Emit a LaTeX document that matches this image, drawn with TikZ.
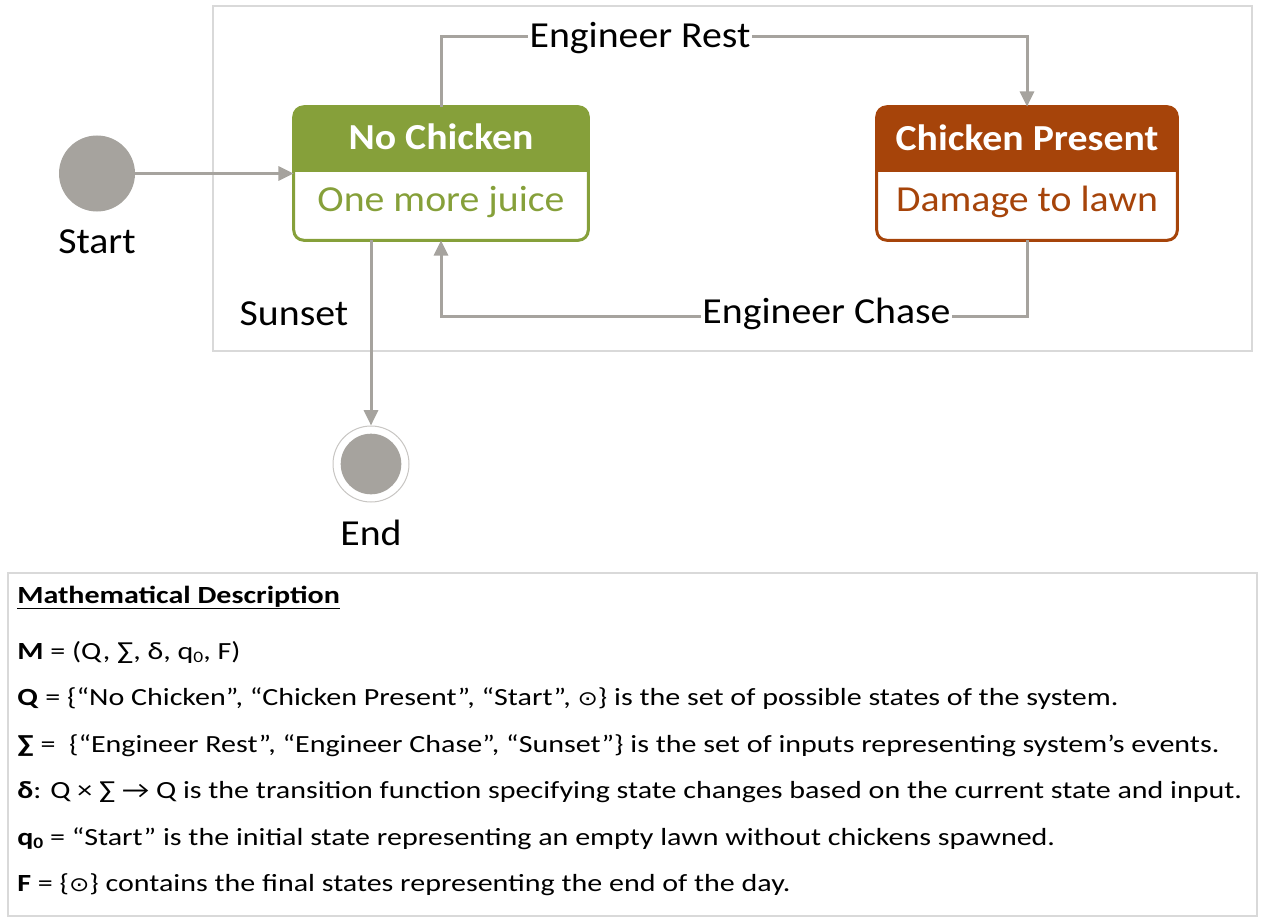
\documentclass[tikz,border=0pt]{standalone}
\usepackage{graphicx}
\usepackage{fontspec}
\setmainfont{Carlito}
\newfontfamily\symfont{DejaVu Sans}
\usetikzlibrary{arrows.meta}
\definecolor{lgray}{RGB}{166,163,158}
\definecolor{frameg}{RGB}{217,217,217}
\definecolor{ringg}{RGB}{200,198,195}
\definecolor{ncgreen}{RGB}{134,160,58}
\definecolor{cporange}{RGB}{166,68,10}
\newcommand\zsub[1]{\raisebox{-0.3ex}{\fontsize{12pt}{12pt}\selectfont #1}}
\newcommand\descfont{\fontsize{18.5pt}{22pt}\selectfont}
\newcommand\sxd[1]{\scalebox{1.085}[1]{#1}}
\newcommand\sxb[1]{\scalebox{1.217}[1]{#1}}
\newcommand\myodot{{\symfont\fontsize{15pt}{15pt}\selectfont ⊙}}
\tikzset{
  conn/.style={draw=lgray, line width=2.25pt},
  arr/.style={conn, -{Triangle[length=11.5pt,width=10.5pt]}},
  big/.style={font=\fontsize{27.5pt}{33pt}\selectfont, inner sep=0pt},
  bigb/.style={font=\fontsize{27.5pt}{33pt}\selectfont\bfseries, inner sep=0pt},
  boxnode/.style={inner sep=0pt, minimum width=#1, minimum height=99.75pt},
  desc/.style={font=\descfont, anchor=base west, inner sep=0pt},
}
\begin{document}
\begin{tikzpicture}[x=0.75pt,y=-0.75pt]
\useasboundingbox (0,0) rectangle (1262,920);
% frame
\draw[frameg, line width=1.5pt] (213,6) rectangle (1252,351);

% No Chicken
\node[boxnode=220.5pt] (nc) at (441,173.5) {};
\begin{scope}
  \clip[rounded corners=7.5pt] (nc.north west) rectangle (nc.south east);
  \fill[ncgreen] (nc.north west) rectangle (588,171.5);
\end{scope}
\draw[ncgreen, line width=2.25pt, rounded corners=7.5pt] (nc.north west) rectangle (nc.south east);
\node[bigb, text=white, anchor=base] (nch) at (441,150) {\sxd{No Chicken}};
\node[big, text=ncgreen, anchor=base] (ncb) at (441,211.5) {\sxd{One more juice}};

% Chicken Present
\node[boxnode=225pt] (cp) at (1027,173.5) {};
\begin{scope}
  \clip[rounded corners=7.5pt] (cp.north west) rectangle (cp.south east);
  \fill[cporange] (cp.north west) rectangle (1177,171.5);
\end{scope}
\draw[cporange, line width=2.25pt, rounded corners=7.5pt] (cp.north west) rectangle (cp.south east);
\node[bigb, text=white, anchor=base] (cph) at (1027,151) {\sxd{Chicken Present}};
\node[big, text=cporange, anchor=base] (cpb) at (1027,211.5) {\sxd{Damage to lawn}};

% Start
\node[circle, fill=lgray, minimum size=57pt, inner sep=0pt] (start) at (97,173.5) {};
\node[big, anchor=base] (startl) at (97,253) {\sxd{Start}};
\draw[arr] (start.east) -- (start.east -| nc.west);

% End
\node[circle, draw=ringg, line width=0.75pt, fill=white, minimum size=57pt, inner sep=0pt] (end) at (371,464) {};
\fill[lgray] (end.center) circle (30.3);
\node[big, anchor=base] (endl) at (371,545) {\sxd{End}};

% transitions
\node[big, anchor=base, inner xsep=1pt] (lrest) at (640,48) {\sxd{Engineer Rest}};
\node[big, anchor=base, inner xsep=1pt] (lchase) at (826.5,323.5) {\sxd{Engineer Chase}};
\node[big, anchor=base] (lsun) at (294,325) {\sxd{Sunset}};
\draw[conn] (nc.north) |- ([yshift=8.5pt]lrest.base west);
\draw[arr] ([yshift=8.5pt]lrest.base east) -| (cp.north);
\draw[conn] (cp.south) |- ([yshift=5pt]lchase.base east);
\draw[arr] ([yshift=5pt]lchase.base west) -| (nc.south);
\draw[arr] (end.north |- nc.south) -- (end.north);

% description
\draw[frameg, line width=1.5pt] (8,573) rectangle (1257,916);
\node[desc, font=\descfont\bfseries] (t0) at (17,603) {\sxb{\underline{Mathematical Description}}};
\node[desc] (t1) at (17,659) {\sxb{\textbf{M} = (Q, ∑, δ, q\zsub{0}, F)}};
\node[desc] (t2) at (17,705.5) {\sxb{\textbf{Q} = \{“No Chicken”, “Chicken Present”, “Start”, \myodot\} is the set of possible states of the system.}};
\node[desc] (t3) at (17,752) {\sxb{\textbf{∑} =\ \ \{“Engineer Rest”, “Engineer Chase”, “Sunset”\} is the set of inputs representing system’s events.}};
\node[desc] (t4) at (17,798.5) {\sxb{\textbf{δ}: Q × ∑ → Q is the transition function specifying state changes based on the current state and input.}};
\node[desc] (t5) at (17,845) {\sxb{\textbf{q\zsub{0}} = “Start” is the initial state representing an empty lawn without chickens spawned.}};
\node[desc] (t6) at (17,891.5) {\sxb{\textbf{F} = \{\myodot\} contains the final states representing the end of the day.}};
\end{tikzpicture}
\end{document}
